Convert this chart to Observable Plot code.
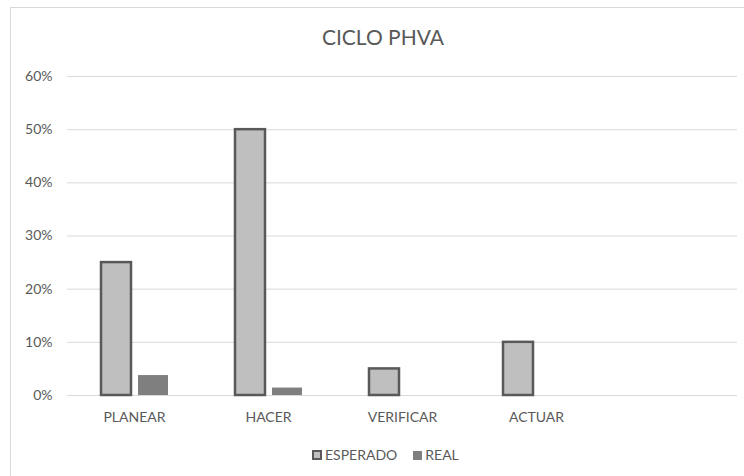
<!DOCTYPE html>
<html>
<head>
<meta charset="utf-8">
<script src="https://cdn.jsdelivr.net/npm/d3@7"></script>
<script src="https://cdn.jsdelivr.net/npm/@observablehq/plot@0.6"></script>
<style>
  html, body { margin: 0; padding: 0; background: #fff; }
  #wrap { position: relative; width: 744px; height: 476px; overflow: hidden; background: #fff; font-family: Lato, "Open Sans", sans-serif; color: #595959; }
  #border { position: absolute; left: 10px; top: 7px; width: 900px; height: 900px; border-left: 1px solid #d9d9d9; border-top: 1px solid #d9d9d9; box-sizing: border-box; }
  #title { position: absolute; left: 0; width: 766px; top: 26px; text-align: center; font-size: 21px; line-height: 22px; white-space: nowrap; }
  #chart { position: absolute; left: 0; top: 0; }
  #legend { position: absolute; left: 312px; top: 446px; font-size: 14px; line-height: 18px; white-space: nowrap; display: flex; align-items: center; }
  .sw { display: inline-block; box-sizing: border-box; margin-right: 3px; }
  .item { display: flex; align-items: center; margin-right: 16px; }
</style>
</head>
<body>
<div id="wrap">
  <div id="border"></div>
  <div id="chart"></div>
  <div id="title"></div>
  <div id="legend"></div>
</div>
<script>
const titleText = "CICLO PHVA";
const categories = ["PLANEAR", "HACER", "VERIFICAR", "ACTUAR", ""];
const series = ["ESPERADO", "REAL"];
const esperado = [0.25, 0.50, 0.05, 0.10];
const real = [0.0375, 0.014, 0, 0];
const yTicks = [0, 0.1, 0.2, 0.3, 0.4, 0.5, 0.6];
const colors = { ESPERADO: "#bfbfbf", REAL: "#7f7f7f" };

const rows = [];
esperado.forEach((v, i) => rows.push({ cat: categories[i], series: "ESPERADO", value: v }));
real.forEach((v, i) => rows.push({ cat: categories[i], series: "REAL", value: v }));

// gridlines for every category slot (including the empty last one)
const grid = categories.flatMap(c => yTicks.map(t => ({ cat: c, tick: t })));

const chart = Plot.plot({
  width: 744,
  height: 476,
  marginTop: 76,
  marginBottom: 81,
  marginLeft: 66,
  marginRight: 6.5,
  style: { fontFamily: "Lato, 'Open Sans', sans-serif", fontSize: "14px", color: "#595959", background: "transparent" },
  fx: { domain: categories, padding: 0, label: null, tickSize: 0, tickPadding: 17, axis: "bottom" },
  x: { domain: series, paddingInner: 0.2, paddingOuter: 0.889, axis: null },
  y: { domain: [0, 0.6], ticks: yTicks, tickFormat: d3.format(".0%"), tickSize: 0, tickPadding: 15, label: null },
  marks: [
    Plot.ruleY(grid, { fx: "cat", y: "tick", stroke: "#d9d9d9", strokeWidth: 1 }),
    Plot.barY(rows.filter(d => d.series === "ESPERADO"), { fx: "cat", x: "series", y: "value", fill: colors.ESPERADO, stroke: "#595959", strokeWidth: 2.5 }),
    Plot.barY(rows.filter(d => d.series === "REAL"), { fx: "cat", x: "series", y: "value", fill: colors.REAL })
  ]
});
document.getElementById("chart").appendChild(chart);
document.getElementById("title").textContent = titleText;

const legend = document.getElementById("legend");
series.forEach(s => {
  const item = document.createElement("span");
  item.className = "item";
  const sw = document.createElement("span");
  sw.className = "sw";
  if (s === "ESPERADO") {
    sw.style.width = "10px"; sw.style.height = "10px";
    sw.style.background = colors.ESPERADO; sw.style.border = "2px solid #595959";
  } else {
    sw.style.width = "9px"; sw.style.height = "9px";
    sw.style.background = colors.REAL;
  }
  item.appendChild(sw);
  const t = document.createElement("span");
  t.textContent = s;
  item.appendChild(t);
  legend.appendChild(item);
});
</script>
</body>
</html>
